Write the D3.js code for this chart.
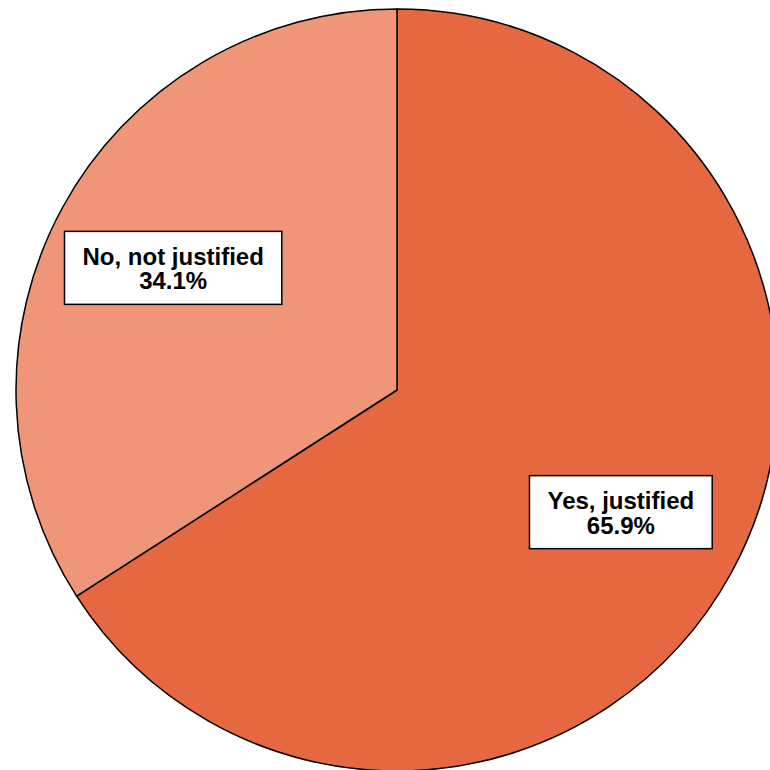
<!DOCTYPE html>
<html><head><meta charset="utf-8">
<script src="https://cdn.jsdelivr.net/npm/d3@7"></script>
<style>html,body{margin:0;padding:0;background:#fff;overflow:hidden}</style>
</head><body>
<svg id="chart" width="770" height="770"></svg>
<script>
const categories = ["Yes, justified", "No, not justified"];
const values = [65.9, 34.1];
const colors = ["#E66841", "#EE9677"];

const svg = d3.select("#chart");
const cx = 397, cy = 390, r = 381;
const g = svg.append("g").attr("transform", `translate(${cx},${cy})`);

const pie = d3.pie().sort(null).value(d => d.v);
const data = categories.map((c, i) => ({c, v: values[i], col: colors[i]}));
const arcs = pie(data);
const arc = d3.arc().innerRadius(0).outerRadius(r);

g.selectAll("path").data(arcs).join("path")
  .attr("d", arc)
  .attr("fill", d => d.data.col)
  .attr("stroke", "#000")
  .attr("stroke-width", 1.5)
  .attr("stroke-linejoin", "miter");

const labelArc = d3.arc().innerRadius(255).outerRadius(255);
const fs = 24;
arcs.forEach(d => {
  const [x, y] = labelArc.centroid(d);
  const lg = g.append("g").attr("transform", `translate(${x},${y})`);
  const t = lg.append("text")
    .attr("text-anchor", "middle")
    .attr("font-family", "'Liberation Sans', Arial, sans-serif")
    .attr("font-weight", "bold")
    .attr("font-size", fs)
    .attr("fill", "#000");
  t.append("tspan").attr("x", 0).attr("y", -3).text(d.data.c);
  t.append("tspan").attr("x", 0).attr("y", 21.5).text(d3.format(".1f")(d.data.v) + "%");
  const bb = t.node().getBBox();
  lg.insert("rect", "text")
    .attr("x", -(bb.width / 2) - 18)
    .attr("y", -36.5)
    .attr("width", bb.width + 36)
    .attr("height", 73)
    .attr("fill", "#fff")
    .attr("stroke", "#000")
    .attr("stroke-width", 1.5);
});
</script>
</body></html>
